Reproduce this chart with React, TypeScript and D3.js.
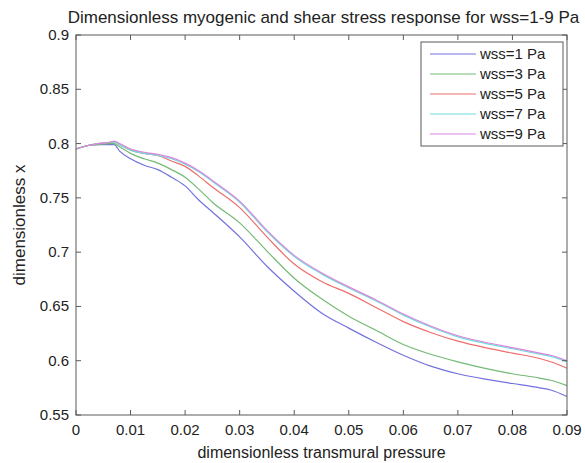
import React, { useEffect, useRef } from 'react';
import * as d3 from 'd3';

// transmural pressure (dimensionless)
const pressure = [0, 0.002, 0.004, 0.006, 0.007, 0.008, 0.01, 0.0125, 0.015, 0.0175, 0.02, 0.0225, 0.025, 0.03, 0.035, 0.04, 0.045, 0.05, 0.055, 0.06, 0.065, 0.07, 0.075, 0.08, 0.085, 0.087, 0.09];

const wss1 = [0.795, 0.798, 0.799, 0.799, 0.799, 0.793, 0.786, 0.780, 0.776, 0.769, 0.761, 0.748, 0.737, 0.714, 0.687, 0.664, 0.644, 0.630, 0.617, 0.605, 0.595, 0.588, 0.583, 0.579, 0.575, 0.573, 0.567];
const wss3 = [0.795, 0.798, 0.799, 0.800, 0.800, 0.797, 0.791, 0.786, 0.782, 0.776, 0.769, 0.758, 0.746, 0.727, 0.701, 0.676, 0.657, 0.641, 0.628, 0.615, 0.606, 0.599, 0.593, 0.588, 0.584, 0.582, 0.577];
const wss5 = [0.795, 0.798, 0.800, 0.801, 0.802, 0.799, 0.794, 0.791, 0.789, 0.784, 0.779, 0.770, 0.760, 0.741, 0.714, 0.689, 0.673, 0.662, 0.649, 0.636, 0.626, 0.618, 0.612, 0.607, 0.602, 0.599, 0.593];
const wss7 = [0.795, 0.798, 0.800, 0.801, 0.801, 0.799, 0.794, 0.791, 0.789, 0.786, 0.781, 0.774, 0.765, 0.746, 0.719, 0.696, 0.680, 0.667, 0.655, 0.642, 0.631, 0.622, 0.616, 0.611, 0.606, 0.604, 0.599];
const wss9 = [0.795, 0.798, 0.800, 0.801, 0.802, 0.800, 0.795, 0.792, 0.790, 0.787, 0.782, 0.775, 0.766, 0.747, 0.720, 0.697, 0.681, 0.668, 0.656, 0.643, 0.632, 0.623, 0.617, 0.612, 0.607, 0.605, 0.600];

const seriesNames = ['wss=1 Pa', 'wss=3 Pa', 'wss=5 Pa', 'wss=7 Pa', 'wss=9 Pa'];
const seriesColors = ['#7272de', '#74ba74', '#ee6e6e', '#6adede', '#dc84dc'];

const xTicks = [0, 0.01, 0.02, 0.03, 0.04, 0.05, 0.06, 0.07, 0.08, 0.09];
const yTicks = [0.55, 0.6, 0.65, 0.7, 0.75, 0.8, 0.85, 0.9];

const width = 585;
const height = 463;
const margin = { top: 35, right: 18, bottom: 48, left: 76 };

export default function App() {
  const ref = useRef<SVGSVGElement>(null);

  useEffect(() => {
    const svg = d3.select(ref.current);
    svg.selectAll('*').remove();
    const font = '"Liberation Sans", Arial, sans-serif';

    const x = d3.scaleLinear().domain([0, 0.09]).range([margin.left, width - margin.right]);
    const y = d3.scaleLinear().domain([0.55, 0.9]).range([height - margin.bottom, margin.top]);

    const allSeries = [wss1, wss3, wss5, wss7, wss9];
    const line = d3
      .line<number>()
      .x((d, i) => x(pressure[i]))
      .y(d => y(d))
      .curve(d3.curveMonotoneX);

    const plot = svg.append('g');
    allSeries.forEach((s, k) => {
      plot
        .append('path')
        .attr('d', line(s))
        .attr('fill', 'none')
        .attr('stroke', seriesColors[k])
        .attr('stroke-width', 1.2);
    });

    // box with inward ticks on all four sides
    const x0 = x(0), x1 = x(0.09), y0 = y(0.55), y1 = y(0.9);
    const axisColor = '#5a5a5a';
    svg
      .append('rect')
      .attr('x', x0)
      .attr('y', y1)
      .attr('width', x1 - x0)
      .attr('height', y0 - y1)
      .attr('fill', 'none')
      .attr('stroke', axisColor)
      .attr('stroke-width', 1);

    const tl = 5;
    xTicks.forEach(t => {
      svg.append('line').attr('x1', x(t)).attr('x2', x(t)).attr('y1', y0).attr('y2', y0 - tl).attr('stroke', axisColor);
      svg.append('line').attr('x1', x(t)).attr('x2', x(t)).attr('y1', y1).attr('y2', y1 + tl).attr('stroke', axisColor);
      svg
        .append('text')
        .attr('x', x(t))
        .attr('y', y0 + 20)
        .attr('text-anchor', 'middle')
        .attr('font-family', font)
        .attr('font-size', 15)
        .attr('fill', '#222')
        .text(d3.format('~g')(t));
    });
    yTicks.forEach(t => {
      svg.append('line').attr('x1', x0).attr('x2', x0 + tl).attr('y1', y(t)).attr('y2', y(t)).attr('stroke', axisColor);
      svg.append('line').attr('x1', x1).attr('x2', x1 - tl).attr('y1', y(t)).attr('y2', y(t)).attr('stroke', axisColor);
      svg
        .append('text')
        .attr('x', x0 - 7)
        .attr('y', y(t) + 5)
        .attr('text-anchor', 'end')
        .attr('font-family', font)
        .attr('font-size', 15)
        .attr('fill', '#222')
        .text(d3.format('~g')(t));
    });

    svg
      .append('text')
      .attr('x', (x0 + x1) / 2 + 2)
      .attr('y', 23)
      .attr('text-anchor', 'middle')
      .attr('font-family', font)
      .attr('font-size', 17)
      .attr('fill', '#222')
      .text('Dimensionless myogenic and shear stress response for wss=1-9 Pa');

    svg
      .append('text')
      .attr('x', (x0 + x1) / 2)
      .attr('y', 458)
      .attr('text-anchor', 'middle')
      .attr('font-family', font)
      .attr('font-size', 16)
      .attr('fill', '#222')
      .text('dimensionless transmural pressure');

    svg
      .append('text')
      .attr('transform', `translate(25, ${(y0 + y1) / 2}) rotate(-90)`)
      .attr('text-anchor', 'middle')
      .attr('font-family', font)
      .attr('font-size', 17)
      .attr('fill', '#222')
      .text('dimensionless x');

    // legend
    const lg = svg.append('g');
    lg.append('rect')
      .attr('x', 421)
      .attr('y', 42)
      .attr('width', 142)
      .attr('height', 104)
      .attr('fill', 'white')
      .attr('stroke', axisColor);
    seriesNames.forEach((name, k) => {
      const ly = 54 + k * 20;
      lg.append('line').attr('x1', 430).attr('x2', 476).attr('y1', ly).attr('y2', ly).attr('stroke', seriesColors[k]).attr('stroke-width', 1.2);
      lg.append('text')
        .attr('x', 480)
        .attr('y', ly + 5)
        .attr('font-family', font)
        .attr('font-size', 15)
        .attr('fill', '#222')
        .text(name);
    });
  }, []);

  return (
    <div style={{ position: 'absolute', left: 0, top: 0 }}>
      <svg ref={ref} width={width} height={height} style={{ display: 'block', background: 'white' }} />
    </div>
  );
}
